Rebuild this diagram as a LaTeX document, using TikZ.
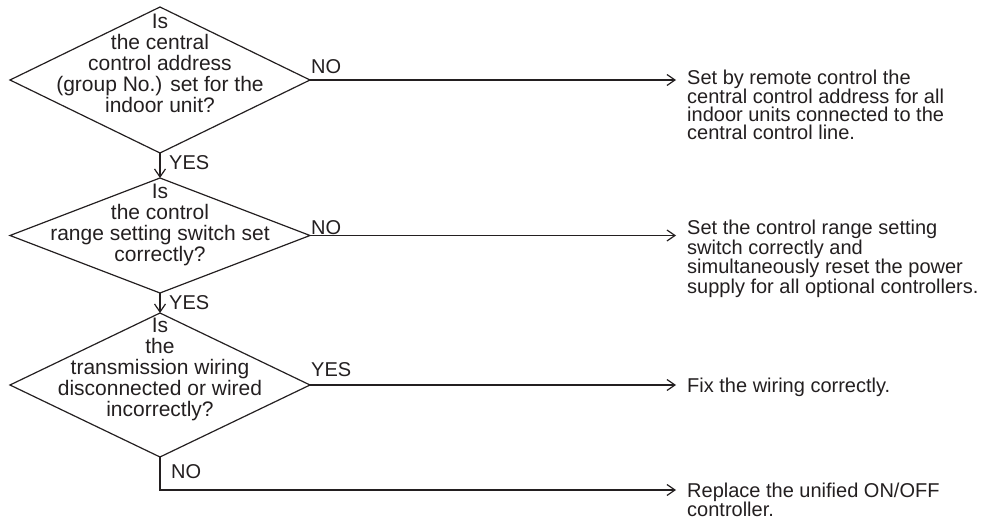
\documentclass[tikz,border=0pt]{standalone}
\usepackage{fontspec}
\setmainfont{Liberation Sans}
\usetikzlibrary{shapes.geometric,arrows.meta}
\definecolor{ink}{HTML}{231F20}
\begin{document}
\begin{tikzpicture}[x=1pt,y=-1pt,
  dec/.style={draw=ink, diamond, line width=1.2pt, inner sep=0pt, outer sep=0pt, minimum width=300pt},
  qtext/.style={align=center, inner sep=0pt, text=ink, font=\fontsize{21}{21}\selectfont},
  result/.style={align=left, anchor=west, inner sep=0pt, text=ink, font=\fontsize{20}{18}\selectfont},
  lbl/.style={anchor=west, inner sep=0pt, text=ink, font=\fontsize{20}{20}\selectfont},
  flow/.style={draw=ink, line width=1.2pt, -{Straight Barb[length=8pt,width=11pt]}}
]
\useasboundingbox (0,0) rectangle (1005,521);
% decisions
\node[dec, minimum height=146pt] (d1) at (160,80) {};
\node[qtext] (q1) at (160,63.5) {Is\\the central\\control address\\(group No.) set for the\\indoor unit?};
\node[dec, minimum height=115pt] (d2) at (160,235.5) {};
\node[qtext] (q2) at (160,224.5) {Is\\the control\\range setting switch set\\correctly?};
\node[dec, minimum height=144pt] (d3) at (160,385) {};
\node[qtext] (q3) at (160,369.5) {Is\\the\\transmission wiring\\disconnected or wired\\incorrectly?};
% results
\node[result] (r1) at (687,105) {Set by remote control the\\central control address for all\\indoor units connected to the\\central control line.};
\node[result] (r2) at (687,259) {Set the control range setting\\switch correctly and\\simultaneously reset the power\\supply for all optional controllers.};
\node[result] (r3) at (687,387) {Fix the wiring correctly.};
\node[result] (r4) at (687,500) {Replace the unified ON/OFF\\controller.};
% arrow end points
\coordinate (e1) at (676,80);
\coordinate (e2) at (676,235.5);
\coordinate (e3) at (676,385);
\coordinate (e4) at (676,490);
% connectors
\draw[flow] (d1.east) -- (e1);
\draw[flow] (d2.east) -- (e2);
\draw[flow] (d3.east) -- (e3);
\draw[flow] (d1.south) -- (d2.north);
\draw[flow] (d2.south) -- (d3.north);
\draw[flow] (d3.south) |- (e4);
% labels
\node[lbl] (n1) at (311,67) {NO};
\node[lbl] (n2) at (311,228) {NO};
\node[lbl] (y3) at (311,370) {YES};
\node[lbl] (y1) at (169,163) {YES};
\node[lbl] (y2) at (169,303) {YES};
\node[lbl] (n4) at (171,472) {NO};
\end{tikzpicture}
\end{document}
